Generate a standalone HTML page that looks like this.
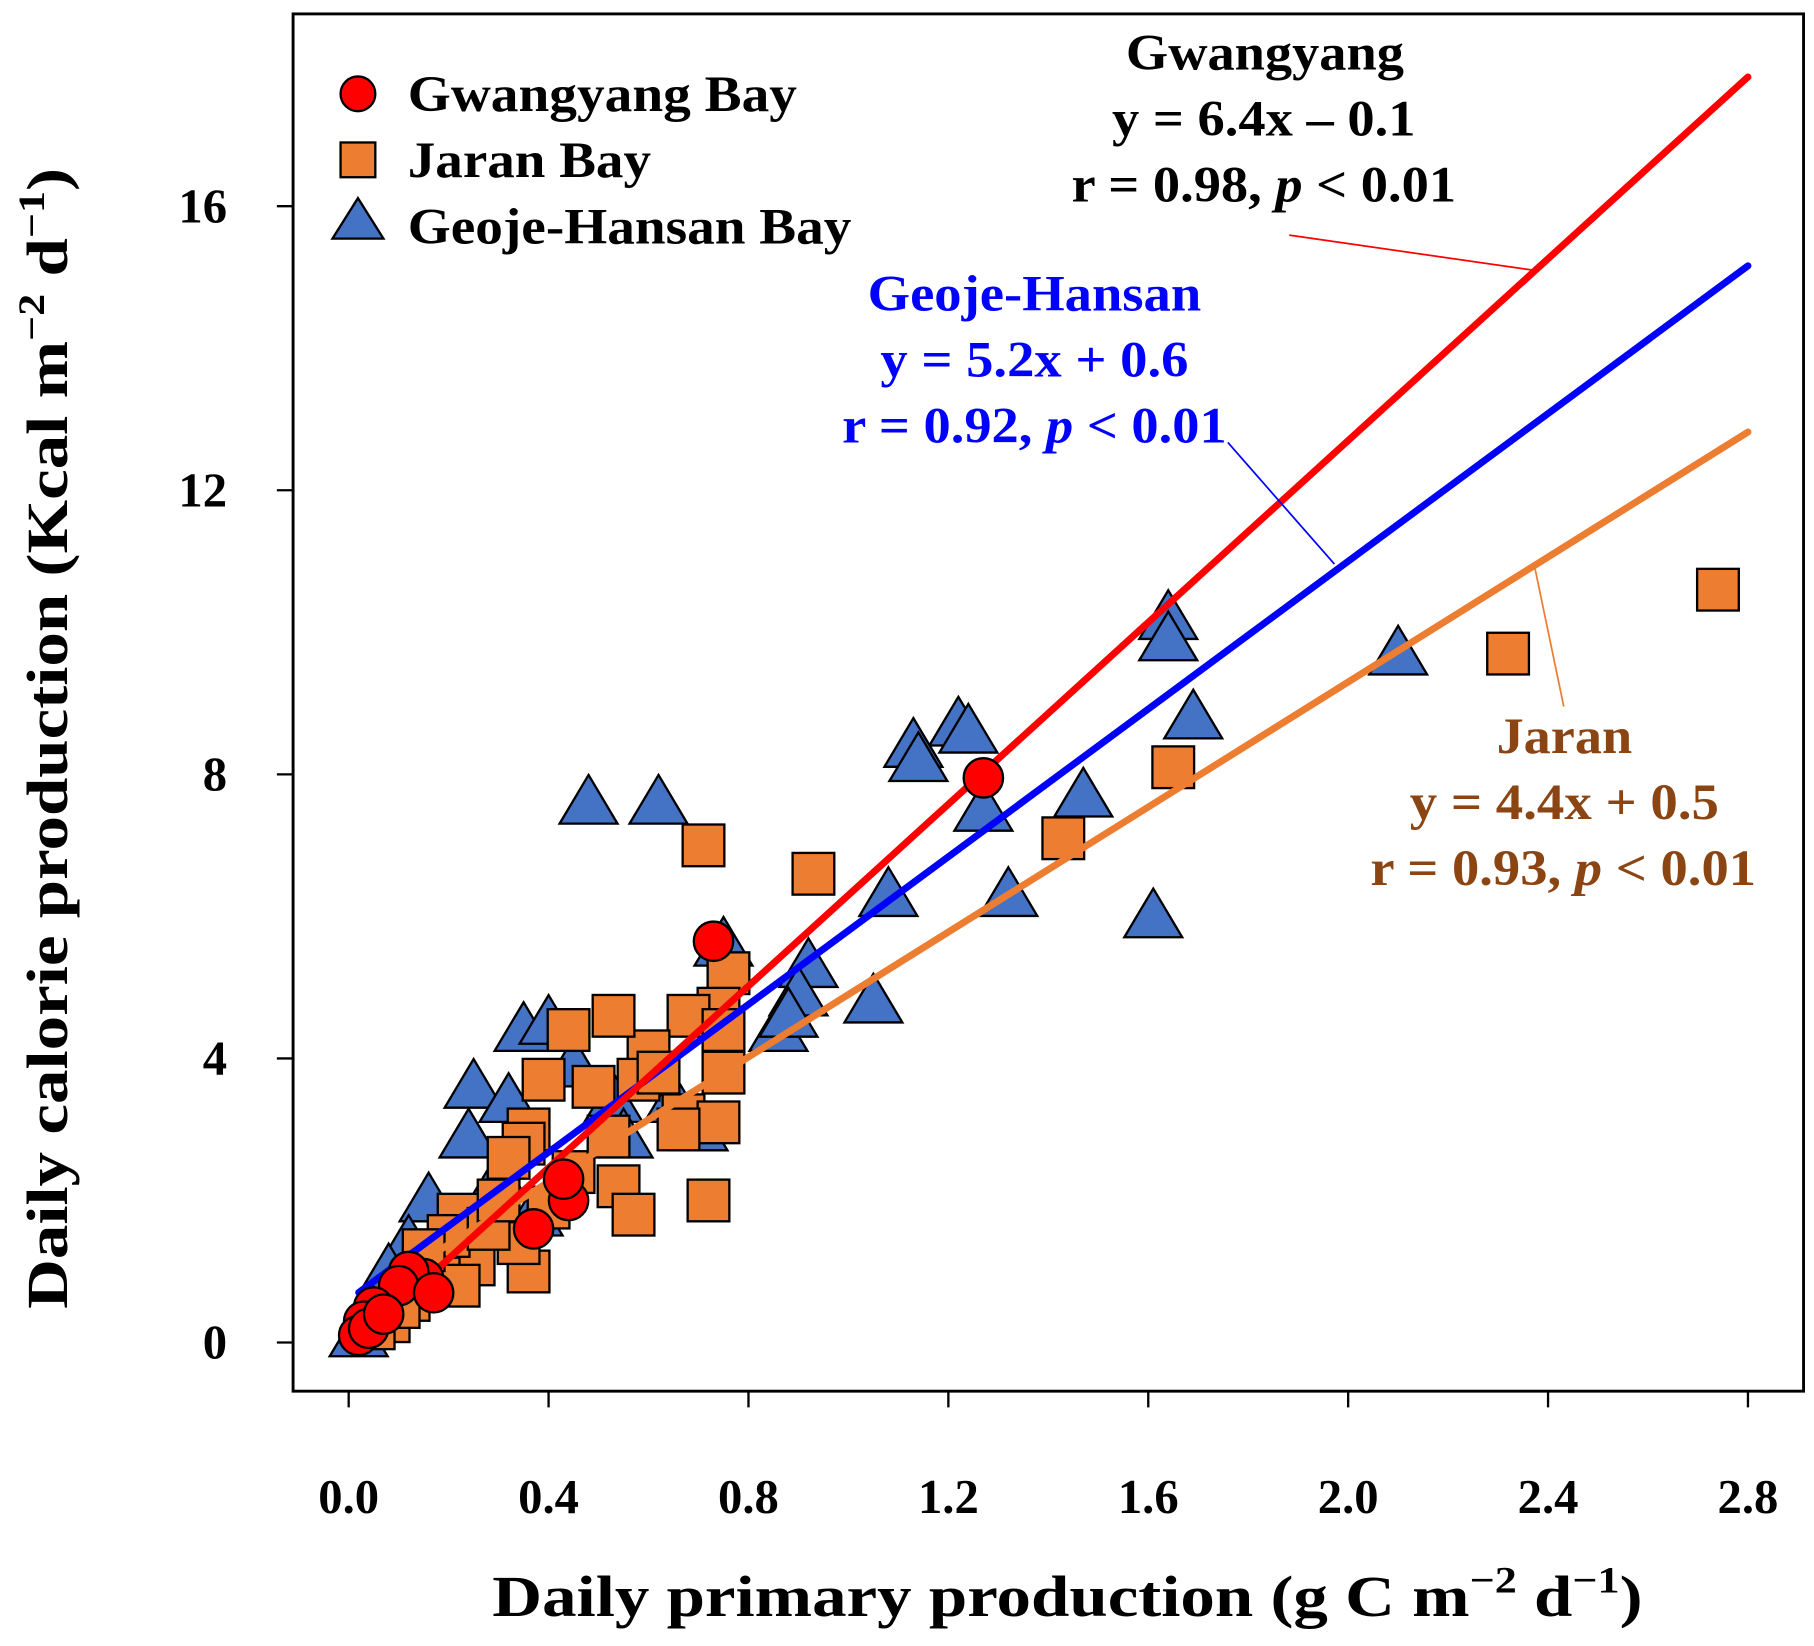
<!DOCTYPE html>
<html><head><meta charset="utf-8"><style>
html,body{margin:0;padding:0;background:#fff;}
svg{display:block;}
svg text{font-family:"Liberation Serif","DejaVu Serif",serif;font-weight:bold;}
</style></head><body>
<svg id="chart" width="1814" height="1646" viewBox="0 0 1566 1421" xmlns="http://www.w3.org/2000/svg" font-family="Liberation Serif, DejaVu Serif, serif" font-weight="bold">
<rect x="0" y="0" width="1566" height="1421" fill="#fff"/>
<g id="marks"></g>
<rect x="253" y="12" width="1304" height="1189" fill="none" stroke="#000" stroke-width="2.5"/>
<g id="axes"></g>
<text x="425" y="1395" font-size="50" textLength="993" lengthAdjust="spacingAndGlyphs">Daily primary production (g C m<tspan font-size="32" dy="-20">−2</tspan><tspan dy="20"> d</tspan><tspan font-size="32" dy="-20">−1</tspan><tspan dy="20">)</tspan></text>
<text transform="translate(58,1130) rotate(-90)" x="0" y="0" font-size="50" textLength="985" lengthAdjust="spacingAndGlyphs">Daily calorie production (Kcal m<tspan font-size="32" dy="-20">−2</tspan><tspan dy="20"> d</tspan><tspan font-size="32" dy="-20">−1</tspan><tspan dy="20">)</tspan></text>
<g font-size="44">
<circle cx="309" cy="81" r="15" fill="#f00" stroke="#000" stroke-width="2"/>
<text x="352" y="96" textLength="336" lengthAdjust="spacingAndGlyphs">Gwangyang Bay</text>
<rect x="294" y="123" width="30" height="30" fill="#ed7d31" stroke="#000" stroke-width="2"/>
<text x="352" y="153" textLength="210" lengthAdjust="spacingAndGlyphs">Jaran Bay</text>
<polygon points="309,171 331,206 287,206" fill="#4472c4" stroke="#000" stroke-width="2"/>
<text x="352" y="210" textLength="383" lengthAdjust="spacingAndGlyphs">Geoje-Hansan Bay</text>
</g>
<g font-size="44" fill="#000">
<text x="972" y="60" textLength="240" lengthAdjust="spacingAndGlyphs">Gwangyang</text>
<text x="960" y="117" textLength="262" lengthAdjust="spacingAndGlyphs">y = 6.4x – 0.1</text>
<text x="925" y="174" textLength="332" lengthAdjust="spacingAndGlyphs">r = 0.98, <tspan font-style="italic">p</tspan> &lt; 0.01</text>
<line x1="1113" y1="203" x2="1322" y2="233" stroke="#f00" stroke-width="1.5"/>
</g>
<g font-size="44" fill="#0000ff">
<text x="749" y="268" textLength="288" lengthAdjust="spacingAndGlyphs">Geoje-Hansan</text>
<text x="760" y="325" textLength="266" lengthAdjust="spacingAndGlyphs">y = 5.2x + 0.6</text>
<text x="727" y="382" textLength="332" lengthAdjust="spacingAndGlyphs">r = 0.92, <tspan font-style="italic">p</tspan> &lt; 0.01</text>
<line x1="1060" y1="382" x2="1152" y2="487" stroke="#0000ff" stroke-width="1.5"/>
</g>
<g font-size="44" fill="#8b4513">
<text x="1292" y="650" textLength="117" lengthAdjust="spacingAndGlyphs">Jaran</text>
<text x="1217" y="707" textLength="267" lengthAdjust="spacingAndGlyphs">y = 4.4x + 0.5</text>
<text x="1183" y="764" textLength="333" lengthAdjust="spacingAndGlyphs">r = 0.93, <tspan font-style="italic">p</tspan> &lt; 0.01</text>
<line x1="1325" y1="490" x2="1350" y2="610" stroke="#ed7d31" stroke-width="1.5"/>
</g>
</svg>
<script>
const xTicks = [0.0,0.4,0.8,1.2,1.6,2.0,2.4,2.8];
const xTickLabels = ["0.0","0.4","0.8","1.2","1.6","2.0","2.4","2.8"];
const yTicks = [0,4,8,12,16];
const yTickLabels = ["0","4","8","12","16"];
const gwX = [1.27,0.73,0.44,0.43,0.37,0.15,0.12,0.10,0.17,0.05,0.03,0.02,0.04,0.07];
const gwY = [7.95,5.65,2.0,2.3,1.6,0.9,1.0,0.8,0.7,0.5,0.3,0.1,0.2,0.4];
const jaX = [2.74,2.32,1.65,1.43,0.93,0.71,0.76,0.74,0.68,0.75,0.60,0.53,0.44,0.39,0.49,0.58,0.62,0.67,0.74,0.75,0.36,0.35,0.32,0.54,0.57,0.72,0.36,0.34,0.25,0.22,0.20,0.18,0.22,0.15,0.12,0.08,0.05,0.10,0.28,0.30,0.40,0.45,0.52,0.66];
const jaY = [10.6,9.7,8.1,7.1,6.6,7.0,5.2,4.7,4.6,4.4,4.1,4.6,4.4,3.7,3.6,3.7,3.8,3.2,3.1,3.8,3.0,2.8,2.6,2.2,1.8,2.0,1.0,1.4,1.1,1.8,1.5,0.9,0.8,1.3,0.6,0.3,0.2,0.5,1.6,2.0,1.9,2.4,2.9,3.0];
const gjX = [1.64,1.64,2.10,1.69,1.22,1.24,1.13,1.14,0.48,0.62,1.27,1.47,1.08,1.32,1.61,1.05,0.92,0.90,0.75,0.86,0.88,0.35,0.40,0.25,0.32,0.45,0.53,0.70,0.55,0.24,0.30,0.37,0.16,0.12,0.08,0.02,0.05,0.20,0.65];
const gjY = [10.2,9.9,9.7,8.8,8.7,8.6,8.4,8.2,7.6,7.6,7.5,7.7,6.3,6.3,6.0,4.8,5.3,4.9,5.6,4.4,4.6,4.4,4.5,3.6,3.4,3.9,3.4,3.0,2.9,2.9,2.3,1.8,2.0,1.4,1.0,0.1,0.4,1.5,3.4];
const fitSlope = {gw:6.4, ja:4.4, gj:5.2};
const fitIntercept = {gw:-0.1, ja:0.5, gj:0.6};
const lineRange = [0.02, 2.8];

const NS = "http://www.w3.org/2000/svg";
const sx = v => 301 + v * (1509 - 301) / 2.8;
const sy = v => 1159 - v * (1159 - 178) / 16;
const marks = document.getElementById('marks');
const axes = document.getElementById('axes');
function mk(tag, attrs, parent) {
  const e = document.createElementNS(NS, tag);
  for (const k in attrs) e.setAttribute(k, attrs[k]);
  parent.appendChild(e);
  return e;
}
xTicks.forEach((t, i) => {
  const l = mk('line', {x1: sx(t), x2: sx(t), y1: 1201, y2: 1215, stroke: '#000', 'stroke-width': 2}, axes);
  
  
  const tx = mk('text', {x: sx(t), y: 1306, 'font-size': 42, 'text-anchor': 'middle'}, axes);
  tx.textContent = xTickLabels[i];
  
  
});
yTicks.forEach((t, i) => {
  const l = mk('line', {x1: 239, x2: 253, y1: sy(t), y2: sy(t), stroke: '#000', 'stroke-width': 2}, axes);
  
  
  const tx = mk('text', {x: 196, y: sy(t) + 14, 'font-size': 42, 'text-anchor': 'end'}, axes);
  tx.textContent = yTickLabels[i];
  
  
});
gjX.forEach((x, i) => {
  const cx = sx(x), cy = sy(gjY[i]);
  const p = mk('polygon', {points: `${cx},${cy-24} ${cx+25},${cy+18} ${cx-25},${cy+18}`, fill: '#4472c4', stroke: '#000', 'stroke-width': 2}, marks);
  
  
});
jaX.forEach((x, i) => {
  const r = mk('rect', {x: sx(x) - 18, y: sy(jaY[i]) - 18, width: 36, height: 36, fill: '#ed7d31', stroke: '#000', 'stroke-width': 2}, marks);
  
  
});
const colors = {gw: '#f00', ja: '#ed7d31', gj: '#0000ff'};
['ja', 'gj', 'gw'].forEach(k => {
  const l = mk('line', {x1: sx(lineRange[0]), y1: sy(fitSlope[k]*lineRange[0] + fitIntercept[k]), x2: sx(lineRange[1]), y2: sy(fitSlope[k]*lineRange[1] + fitIntercept[k]), stroke: colors[k], 'stroke-width': 6, 'stroke-linecap': 'round'}, marks);
  
  
});
gwX.forEach((x, i) => {
  const c = mk('circle', {cx: sx(x), cy: sy(gwY[i]), r: 17, fill: '#f00', stroke: '#000', 'stroke-width': 2}, marks);
  
  
});
</script>
</body></html>
